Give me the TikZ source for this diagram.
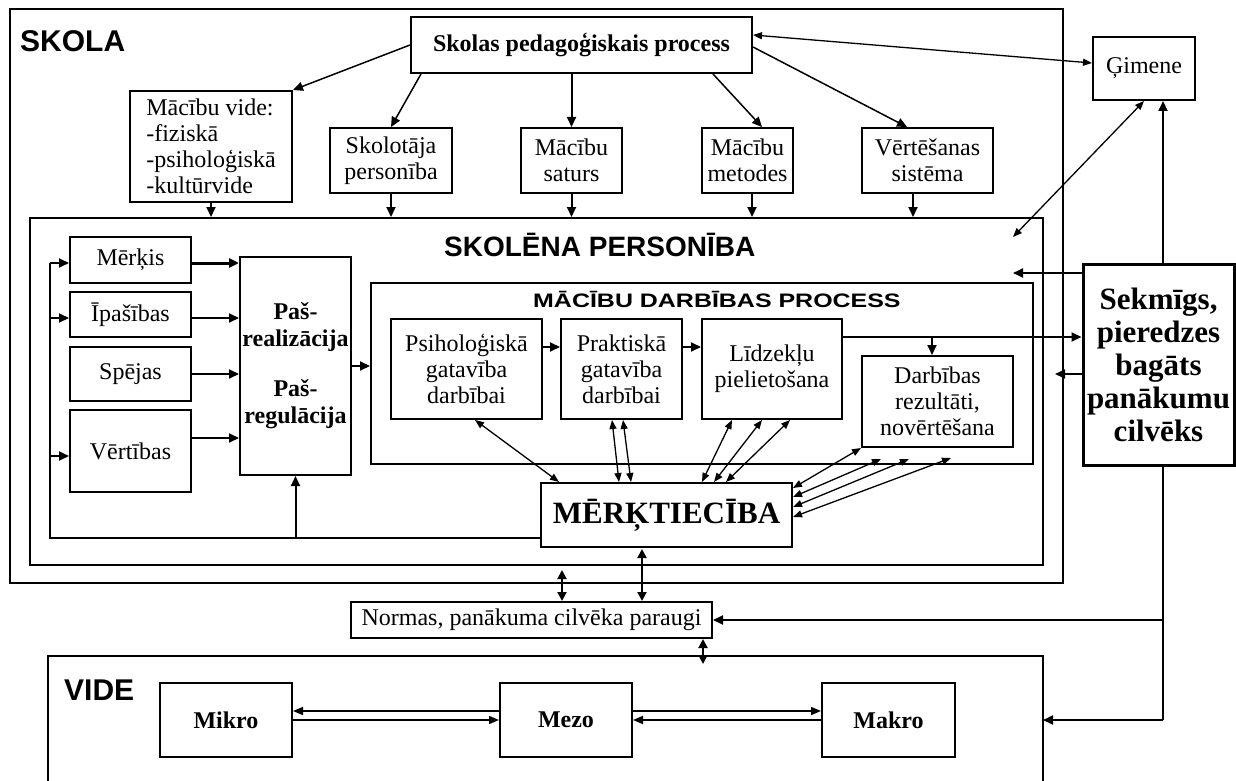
\documentclass[tikz,border=0pt]{standalone}
\usepackage{fontspec}
\setmainfont{Liberation Serif}
\setsansfont{Liberation Sans}
\usetikzlibrary{arrows.meta}
\newcommand\txtsize{\fontsize{24}{26}\selectfont}
\newcommand\bigsize{\fontsize{31}{33}\selectfont}
\newcommand\headfont{\fontsize{30}{32}\selectfont\sffamily\bfseries}

\begin{document}
\begin{tikzpicture}[x=1pt,y=-1pt,
  box/.style={draw, line width=2pt, align=center, inner sep=1pt, font=\txtsize},
  frame/.style={draw, line width=2.5pt, inner sep=0pt},
  title/.style={anchor=base west, inner sep=0pt},
  line/.style={line width=2pt},
  arr/.style={line width=2pt, -{Triangle[length=10pt,width=9pt]}},
  tarr/.style={line width=1.5pt, -{Triangle[length=10pt,width=9pt]}},
  darr/.style={line width=1.3pt, {Triangle[length=9pt,width=7pt]}-{Triangle[length=9pt,width=7pt]}},
  dbold/.style={line width=2pt, {Triangle[length=9pt,width=9pt]}-{Triangle[length=9pt,width=9pt]}},
  harr/.style={line width=1.6pt, -{Triangle[length=10pt,width=8pt]}}
]
\fill[white] (0,0) rectangle (1236,781);
\useasboundingbox (0,0) rectangle (1236,781);

% frames
\node[frame, minimum width=1053pt, minimum height=574pt] (skola) at (536.5,296) {};
\node[frame, line width=2pt, minimum width=1013pt, minimum height=347pt] (skolena) at (536.5,391.5) {};
\node[frame, line width=2pt, minimum width=662pt, minimum height=181pt] (mdp) at (702,373.5) {};
\coordinate (vfl) at (48,656);
\coordinate (vfr) at (1043,656);
\draw[line width=2pt] (vfl |- 0,800) -- (vfl) -- (vfr) -- (vfr |- 0,800);

% frame titles
\node[title, font=\headfont] (skolat) at (20,52) {SKOLA};
\node[title, font=\fontsize{28}{30}\selectfont\sffamily\bfseries] (skolenat) at (444,256) {SKOLĒNA PERSONĪBA};
\node[title] (mdpt) at (533,307) {\scalebox{1.28}[1]{\fontsize{19.5}{20}\selectfont\sffamily\bfseries MĀCĪBU DARBĪBAS PROCESS}};
\node[title, font=\headfont] (videt) at (64,700) {VIDE};

% school level
\node[box, minimum width=341pt, minimum height=56pt] (ped) at (581.5,45) {\textbf{Skolas pedagoģiskais process}};
\node[box, align=left, minimum width=162pt, minimum height=111pt] (vide) at (211,146.5) {Mācību vide:\\-fiziskā\\-psiholoģiskā\\-kultūrvide};
\node[box, minimum width=122pt, minimum height=65pt] (skolot) at (391,160.5) {Skolotāja\\personība};
\node[box, minimum width=101pt, minimum height=65pt] (saturs) at (571.5,160.5) {Mācību\\saturs};
\node[box, minimum width=91pt, minimum height=65pt] (metodes) at (747.5,160.5) {Mācību\\metodes};
\node[box, minimum width=131pt, minimum height=65pt] (vert) at (927.5,160.5) {Vērtēšanas\\sistēma};
\node[box, minimum width=102pt, minimum height=63pt] (gimene) at (1144,68.5) {Ģimene};

% pupil personality
\node[box, minimum width=121pt, minimum height=46pt] (merkis) at (130.5,260) {Mērķis};
\node[box, minimum width=121pt, minimum height=45pt] (ipas) at (130.5,314.5) {Īpašības};
\node[box, minimum width=121pt, minimum height=54pt] (spejas) at (130.5,374) {Spējas};
\node[box, minimum width=121pt, minimum height=82pt] (vertibas) at (130.5,451) {Vērtības};
\node[box, minimum width=111pt, minimum height=218pt, font=\txtsize\bfseries, inner sep=0pt] (pas) at (295.5,366)
  {Paš-\\[1pt]realizācija\\[24pt]Paš-\\[1pt]regulācija};

% learning activity process
\node[box, minimum width=151pt, minimum height=100pt] (psih) at (466.5,369) {Psiholoģiskā\\gatavība\\darbībai};
\node[box, minimum width=121pt, minimum height=100pt] (prak) at (621.5,369) {Praktiskā\\gatavība\\darbībai};
\node[box, minimum width=140pt, minimum height=100pt] (lidz) at (772,369) {Līdzekļu\\pielietošana};
\node[box, minimum width=151pt, minimum height=91pt] (darb) at (937.5,401.5) {Darbības\\rezultāti,\\novērtēšana};
\node[box, minimum width=251pt, minimum height=64pt, font=\bigsize\bfseries] (merkt) at (666.5,515) {MĒRĶTIECĪBA};

% successful person
\node[box, line width=3pt, minimum width=151pt, minimum height=201pt, font=\bigsize\bfseries, inner sep=0pt] (sekm) at (1158.5,364.5)
  {Sekmīgs,\\pieredzes\\bagāts\\panākumu\\cilvēks};

% norms and environment
\node[box, minimum width=361pt, minimum height=36pt] (normas) at (531.5,620) {Normas, panākuma cilvēka paraugi};
\node[box, minimum width=132pt, minimum height=74pt, font=\txtsize\bfseries] (mikro) at (226,720) {Mikro};
\node[box, minimum width=132pt, minimum height=74pt, font=\txtsize\bfseries] (mezo) at (566,720) {Mezo};
\node[box, minimum width=133pt, minimum height=74pt, font=\txtsize\bfseries] (makro) at (888.5,720) {Makro};

% helper points
\coordinate (gs) at (1013,237);
\coordinate (sa) at (1013,273);
\coordinate (sb) at (1055,374);
\coordinate (se) at (1163,720);
\coordinate (sn) at (1163,620);
\coordinate (fbl) at (50,538);
\coordinate (fbt) at (50,263);
\coordinate (fb2) at (50,318);
\coordinate (fb3) at (50,456);
\coordinate (lt) at ([yshift=32pt]lidz.east);

% pedagogical process outputs
\draw[tarr] (ped.west) -- (vide.north east);
\draw[tarr] ([xshift=11pt]ped.south west) -- (skolot.north);
\draw[arr] (saturs.north |- ped.south) -- (saturs.north);
\draw[tarr] ([xshift=-40pt]ped.south east) -- ([xshift=14.5pt]metodes.north);
\draw[tarr] ([yshift=-2pt]ped.east) -- ([xshift=-20.5pt]vert.north);
\draw[darr] ([yshift=10pt]ped.east) -- ([yshift=5.5pt]gimene.west);
\draw[darr] (gimene.south) -- (gs);

% inputs into the pupil personality
\draw[arr] (vide.south) -- (vide.south |- skolena.north);
\draw[arr] (skolot.south) -- (skolot.south |- skolena.north);
\draw[arr] (saturs.south) -- (saturs.south |- skolena.north);
\draw[arr] ([xshift=4.5pt]metodes.south) -- ([xshift=4.5pt]metodes.south |- skolena.north);
\draw[arr] ([xshift=-14.5pt]vert.south) -- ([xshift=-14.5pt]vert.south |- skolena.north);

% left column into self-realisation
\draw[arr, line width=3pt] ([yshift=-3pt]merkis.east) -- ([yshift=-3pt]merkis.east -| pas.west);
\draw[arr] ([yshift=-3.5pt]ipas.east) -- ([yshift=-3.5pt]ipas.east -| pas.west);
\draw[arr] (spejas.east) -- (spejas.east -| pas.west);
\draw[arr] ([yshift=13pt]vertibas.east) -- ([yshift=13pt]vertibas.east -| pas.west);

% feedback loop from purposefulness
\draw[line] (fbl -| merkt.west) -- (fbl) -- (fbt);
\draw[arr] (fbt) -- (fbt -| merkis.west);
\draw[arr] (fb2) -- (fb2 -| ipas.west);
\draw[arr] (fb3) -- (fb3 -| vertibas.west);
\draw[arr] (fbl -| pas.south) -- (pas.south);
\draw[arr] (pas.east) -- (pas.east -| mdp.west);

% process chain
\draw[arr] ([yshift=22pt]psih.east) -- ([yshift=22pt]prak.west);
\draw[arr] ([yshift=22pt]prak.east) -- ([yshift=22pt]lidz.west);
\draw[arr] (lt) -- (lt -| sekm.west);
\draw[arr] ([xshift=-5.5pt]darb.north |- lt) -- ([xshift=-5.5pt]darb.north);

% links with purposefulness
\draw[darr] ([xshift=8.5pt]psih.south) -- ([xshift=19pt]merkt.north west);
\draw[darr] ([xshift=-9.5pt]prak.south) -- ([xshift=79pt]merkt.north west);
\draw[darr] ([xshift=1.5pt]prak.south) -- ([xshift=91pt]merkt.north west);
\draw[darr] ([xshift=-40pt]lidz.south) -- ([xshift=162pt]merkt.north west);
\draw[darr] ([xshift=-10pt]lidz.south) -- ([xshift=174pt]merkt.north west);
\draw[darr] ([xshift=18pt]lidz.south) -- ([xshift=186pt]merkt.north west);
\draw[darr] (darb.south west) -- ([yshift=27pt]merkt.east);
\draw[darr] ([xshift=20pt,yshift=-11pt]darb.south west) -- ([yshift=18pt]merkt.east);
\draw[darr] ([xshift=48pt,yshift=-11pt]darb.south west) -- ([yshift=8pt]merkt.east);
\draw[darr] ([xshift=90pt,yshift=-10pt]darb.south west) -- ([yshift=-2pt]merkt.east);

% successful person links
\draw[arr] ([xshift=4.5pt]sekm.north) -- ([xshift=4.5pt]sekm.north |- gimene.south);
\draw[arr] (sa -| sekm.west) -- (sa);
\draw[arr] (sb -| sekm.west) -- (sb);
\draw[line] ([xshift=4.5pt]sekm.south) -- (se);
\draw[arr] (se) -- (se -| vfr);
\draw[arr] (sn) -- (normas.east);

% norms
\draw[dbold] ([xshift=-24.5pt,yshift=-1pt]merkt.south) -- ([xshift=-24.5pt]merkt.south |- normas.north);
\draw[dbold] ([xshift=30.5pt,yshift=-4pt]normas.north |- skolena.south) -- ([xshift=30.5pt]normas.north);
\draw[dbold] ([xshift=-10pt]normas.south east) -- ([xshift=-10pt,yshift=-8pt]normas.south east |- vfr);

% environment levels
\draw[harr] ([yshift=9pt]mezo.west) -- ([yshift=9pt]mikro.east);
\draw[harr] (mikro.east) -- (mezo.west);
\draw[harr] ([yshift=9pt]mezo.east) -- ([yshift=9pt]makro.west);
\draw[harr] (makro.west) -- (mezo.east);
\end{tikzpicture}
\end{document}
